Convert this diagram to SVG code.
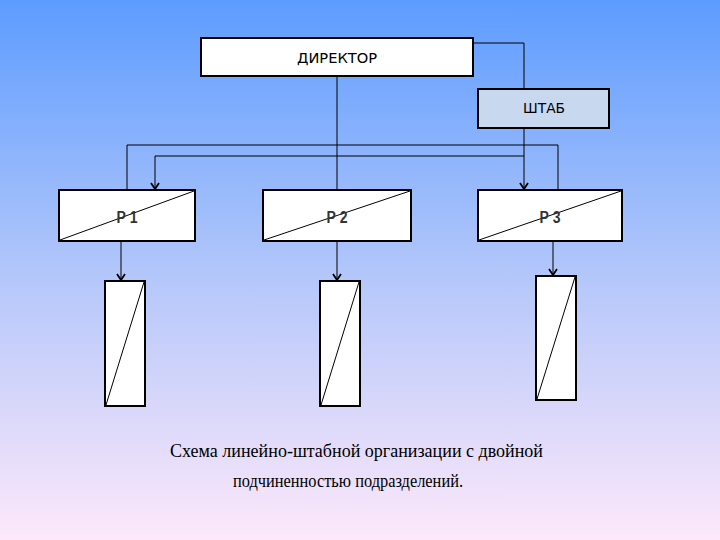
<svg xmlns="http://www.w3.org/2000/svg" width="720" height="540" viewBox="0 0 720 540">
<defs>
<linearGradient id="bg" x1="0" y1="0" x2="0" y2="1">
<stop offset="0" stop-color="#5d9cff"/>
<stop offset="0.5" stop-color="#b2c6fa"/>
<stop offset="1" stop-color="#fde8fa"/>
</linearGradient>
<marker id="arr" markerWidth="10" markerHeight="10" refX="9" refY="5" orient="auto-start-reverse" markerUnits="userSpaceOnUse" viewBox="0 0 10 10">
<path d="M3,1 L9,5 L3,9" fill="none" stroke="#000" stroke-width="1.8"/>
</marker>
</defs>
<style>
.box{fill:#fff;stroke:#000;stroke-width:2}
.staff{fill:#c8d8ee;stroke:#000;stroke-width:2}
.diag{stroke:#000;stroke-width:1;fill:none}
.conn{stroke:#000;stroke-width:1;fill:none}
.lbl{font-family:"DejaVu Sans","Liberation Sans",sans-serif;font-size:14px;fill:#000;text-anchor:middle}
.plbl{font-family:"Liberation Sans","DejaVu Sans",sans-serif;font-size:16px;font-weight:bold;fill:#333;text-anchor:middle}
.cap{font-family:"Liberation Serif","DejaVu Serif",serif;font-size:18px;fill:#000;text-anchor:middle}
</style>
<rect width="720" height="540" fill="url(#bg)"/>
<g id="connectors">
<polyline class="conn" points="473,43 524,43 524,89"/>
<line class="conn" x1="337" y1="77" x2="337" y2="190"/>
<line class="conn" x1="524" y1="128" x2="524" y2="189" marker-end="url(#arr)"/>
<polyline class="conn" points="127,190 127,145 558,145 558,190"/>
<polyline class="conn" points="155,189 155,156 524,156" marker-start="url(#arr)"/>
<line class="conn" x1="121" y1="241" x2="121" y2="280" marker-end="url(#arr)"/>
<line class="conn" x1="337" y1="241" x2="337" y2="280" marker-end="url(#arr)"/>
<line class="conn" x1="553" y1="241" x2="553" y2="275" marker-end="url(#arr)"/>
</g>
<g id="director">
<rect class="box" x="201" y="38" width="272" height="38"/>
<text class="lbl" x="337" y="63" textLength="80" lengthAdjust="spacingAndGlyphs">ДИРЕКТОР</text>
</g>
<g id="staff">
<rect class="staff" x="478" y="89" width="131" height="39"/>
<text class="lbl" x="544" y="113" textLength="42" lengthAdjust="spacingAndGlyphs">ШТАБ</text>
</g>
<g id="p1">
<rect class="box" x="59" y="190" width="136" height="51"/>
<line class="diag" x1="60" y1="240" x2="194" y2="191"/>
<text class="plbl" x="127" y="223" textLength="21" lengthAdjust="spacingAndGlyphs">Р 1</text>
</g>
<g id="p2">
<rect class="box" x="263" y="190" width="148" height="51"/>
<line class="diag" x1="264" y1="240" x2="410" y2="191"/>
<text class="plbl" x="337" y="223" textLength="21" lengthAdjust="spacingAndGlyphs">Р 2</text>
</g>
<g id="p3">
<rect class="box" x="478" y="190" width="144" height="51"/>
<line class="diag" x1="479" y1="240" x2="621" y2="191"/>
<text class="plbl" x="550" y="223" textLength="21" lengthAdjust="spacingAndGlyphs">Р 3</text>
</g>
<g id="s1">
<rect class="box" x="105" y="281" width="40" height="125"/>
<line class="diag" x1="106" y1="405" x2="144" y2="282"/>
</g>
<g id="s2">
<rect class="box" x="320" y="281" width="40" height="125"/>
<line class="diag" x1="321" y1="405" x2="359" y2="282"/>
</g>
<g id="s3">
<rect class="box" x="536" y="276" width="40" height="124"/>
<line class="diag" x1="537" y1="399" x2="575" y2="277"/>
</g>
<g id="caption">
<text class="cap" x="356.5" y="457" textLength="373" lengthAdjust="spacingAndGlyphs">Схема линейно-штабной организации с двойной</text>
<text class="cap" x="348" y="487" textLength="230" lengthAdjust="spacingAndGlyphs">подчиненностью подразделений.</text>
</g>
</svg>
